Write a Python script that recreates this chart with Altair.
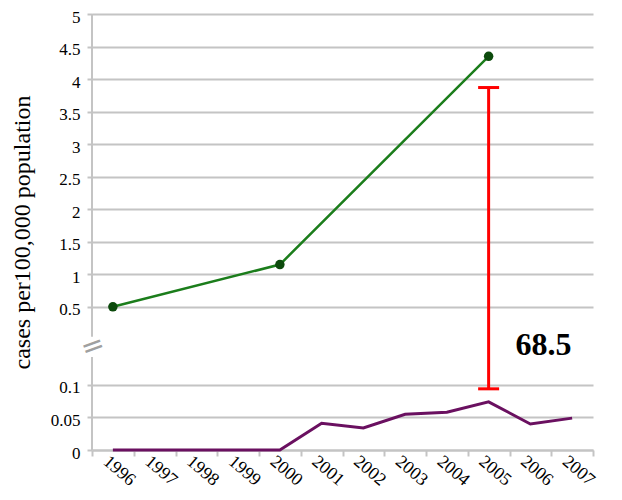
import altair as alt
import pandas as pd

# ---- data ----
years = [str(y) for y in range(1996, 2008)]
green_years = ["1996", "2000", "2005"]
green_values = [0.5, 1.15, 4.35]
purple_values = [0, 0, 0, 0, 0, 0.041, 0.034, 0.055, 0.058, 0.074, 0.040, 0.049]
bar_year = "2005"
bar_low = 0.094
bar_high = 3.87
annot_year = "2006"
annot_text = "68.5"
y_tick_values = [0, 0.05, 0.1, 0.5, 1, 1.5, 2, 2.5, 3, 3.5, 4, 4.5, 5]
y_title = "cases per100,000 population"

# ---- broken-axis mapping (value -> display units) ----
LOW_K = 650.0     # lower segment: 0..0.1
UP_BASE = 143.0   # display position of 0.5
UP_K = 65.0       # upper segment: 0.5..5
D_MAX = UP_BASE + (5 - 0.5) * UP_K
BREAK_D = 103.0
SEG_LOW_TOP = 93.0
SEG_UP_BOT = 113.0


def to_d(v):
    return v * LOW_K if v <= 0.2 else UP_BASE + (v - 0.5) * UP_K


def map_expr(field):
    return (f"datum.{field} <= 0.2 ? datum.{field} * {LOW_K} : "
            f"{UP_BASE} + (datum.{field} - 0.5) * {UP_K}")


label_expr = (
    f"datum.value <= 70 ? format(datum.value / {LOW_K}, '.2~f') : "
    f"format(0.5 + (datum.value - {UP_BASE}) / {UP_K}, '.2~f')"
)
tick_d = [to_d(v) for v in y_tick_values]

green_df = pd.DataFrame({"year": green_years, "v": green_values})
purple_df = pd.DataFrame({"year": years, "v": purple_values})
bar_df = pd.DataFrame({"year": [bar_year], "lo": [bar_low], "hi": [bar_high]})
cap_df = pd.DataFrame({"year": [bar_year, bar_year], "v": [bar_low, bar_high]})
seg_df = pd.DataFrame({"d": [0.0, SEG_UP_BOT], "d2": [SEG_LOW_TOP, D_MAX]})
brk_df = pd.DataFrame({"d": [BREAK_D], "t": ["="]})
ann_df = pd.DataFrame({"year": [annot_year], "d": [105.0], "t": [annot_text]})

GRAY = "#c4c4c4"
FONT = "Liberation Serif"

x_scale = alt.Scale(type="band", domain=years, paddingInner=0, paddingOuter=0)
y_scale = alt.Scale(domain=[0, D_MAX], nice=False, zero=False)

x_axis = alt.Axis(
    title=None, tickBand="extent", labelAngle=40, labelAlign="left",
    labelBaseline="middle", labelOffset=-8, labelPadding=3, tickSize=6,
    domainColor=GRAY, domainWidth=2, tickColor=GRAY, tickWidth=2,
    labelFont=FONT, labelFontSize=18, labelColor="#000", grid=False,
)
y_axis = alt.Axis(
    title=y_title, values=tick_d, labelExpr=label_expr, domain=False,
    tickColor=GRAY, tickWidth=2, tickSize=5, labelPadding=7, labelOffset=3,
    gridColor=GRAY, gridWidth=2, labelFont=FONT, labelFontSize=17,
    labelColor="#000", titleFont=FONT, titleFontSize=24,
    titleFontWeight="normal", titleColor="#000", titlePadding=16,
)


def X():
    return alt.X("year:O", scale=x_scale, axis=x_axis)


def Y():
    return alt.Y("d:Q", scale=y_scale, axis=y_axis)


purple = alt.Chart(purple_df).transform_calculate(d=map_expr("v")).mark_line(
    color="#6a1060", strokeWidth=3
).encode(x=X(), y=Y())

green_line = alt.Chart(green_df).transform_calculate(d=map_expr("v")).mark_line(
    color="#1b7d1b", strokeWidth=2.5
).encode(x=X(), y=Y())

green_pts = alt.Chart(green_df).transform_calculate(d=map_expr("v")).mark_circle(
    color="#0c4a0c", size=90, opacity=1
).encode(x=X(), y=Y())

bar = alt.Chart(bar_df).transform_calculate(
    d=map_expr("lo"), d2=map_expr("hi")
).mark_rule(color="#ff0000", strokeWidth=3).encode(x=X(), y=Y(), y2="d2:Q")

caps = alt.Chart(cap_df).transform_calculate(d=map_expr("v")).mark_tick(
    color="#ff0000", thickness=3, size=21, opacity=1
).encode(x=X(), y=Y())

segs = alt.Chart(seg_df).mark_rule(color=GRAY, strokeWidth=2).encode(
    x=alt.value(0), y=Y(), y2="d2:Q"
)

brk = alt.Chart(brk_df).mark_text(
    fontSize=28, angle=340, color="#a0a0a0", font="DejaVu Sans"
).encode(x=alt.value(1), y=Y(), text="t:N")

ann = alt.Chart(ann_df).mark_text(
    font=FONT, fontSize=32, fontWeight="bold", color="#000", dx=13
).encode(x=X(), y=Y(), text="t:N")

chart = alt.layer(purple, green_line, green_pts, bar, caps, segs, brk, ann).properties(
    width=501, height=436,
    autosize=alt.AutoSizeParams(type="none"),
    padding={"left": 84, "top": 6, "right": 20, "bottom": 48},
).configure_view(stroke=None)

chart.save("out.html", embed_options={"renderer": "svg", "actions": False})
